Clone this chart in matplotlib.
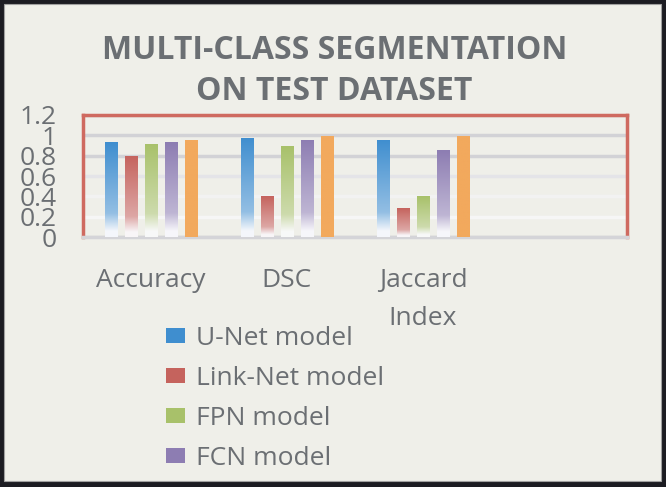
import numpy as np
import matplotlib.pyplot as plt
from matplotlib.patches import Rectangle, Patch
from matplotlib.colors import to_rgb

# data
categories = ["Accuracy", "DSC", "Jaccard\nIndex", ""]
models = ["U-Net model", "Link-Net model", "FPN model", "FCN model", "Proposed model"]
unet = [0.93, 0.975, 0.955, np.nan]
linknet = [0.80, 0.40, 0.285, np.nan]
fpn = [0.915, 0.895, 0.40, np.nan]
fcn = [0.93, 0.955, 0.855, np.nan]
proposed = [0.955, 0.998, 0.998, np.nan]
series = [unet, linknet, fpn, fcn, proposed]
colors = ["#3f8ecf", "#c5635d", "#a8c16a", "#8d7db2", "#f2a95d"]

plt.rcParams['font.family'] = ['Open Sans', 'DejaVu Sans']
text_color = "#6b6f73"
bg = "#efefe9"

fig = plt.figure(figsize=(6.66, 4.87), dpi=100)
fig.patch.set_facecolor("#1c1c22")
fig.patches.append(Rectangle((4 / 666, 6 / 487), 657 / 666, 477 / 487,
                             transform=fig.transFigure, facecolor=bg,
                             edgecolor="#a0a0a0", lw=0.8, zorder=-5))

ax = fig.add_axes([83 / 666, 1 - 237 / 487, 544 / 666, 122 / 487])
ax.set_facecolor("none")

x = np.arange(len(categories))
step = 0.147
width = 0.093


def fade(base, n=200, solid=False):
    # Excel-like gradient: base colour at top, lighter lower down, white at foot
    c = np.array(to_rgb(base))
    t = np.linspace(0, 1, n)[:, None]
    if solid:
        w = np.zeros_like(t)
    else:
        w = np.where(t >= 0.25, 0.45 * (1 - t) / 0.75,
                     np.clip(0.45 + 0.55 * (0.25 - t) / 0.2, 0, 0.97))
    rgb = c * (1 - w) + np.array([0.98, 0.98, 0.99]) * w
    return rgb[::-1, None, :]


for i, (vals, col) in enumerate(zip(series, colors)):
    bars = ax.bar(x + (i - 2) * step, vals, width, color="none", zorder=3)
    for b in bars:
        h = b.get_height()
        if not np.isfinite(h):
            continue
        img = ax.imshow(fade(col, solid=(i == 4)), aspect="auto", zorder=3,
                        extent=[b.get_x(), b.get_x() + b.get_width(), 0, h])
        img.set_clip_path(b)

ax.set_xlim(-0.5, len(categories) - 0.5)
ax.set_ylim(0, 1.2)
ax.set_yticks([0, 0.2, 0.4, 0.6, 0.8, 1.0, 1.2])
ax.set_yticklabels(["0", "0.2", "0.4", "0.6", "0.8", "1", "1.2"])
ax.set_xticks(x)
ax.set_xticklabels(categories)
ax.tick_params(axis="y", length=0, pad=19, labelsize=19, labelcolor=text_color)
ax.tick_params(axis="x", length=0, pad=22, labelsize=19, labelcolor=text_color)
for t in ax.get_xticklabels():
    t.set_linespacing(1.72)

ax.yaxis.grid(True, lw=2.5)
grid_cols = ["#d6d6da", "#f6f6f6", "#f2f2f2", "#e4e4e8", "#d2d2d6", "#d2d2d6", "#d2d2d6"]
for gl, gc in zip(ax.get_ygridlines(), grid_cols):
    gl.set_color(gc)
ax.set_axisbelow(True)

for side in ["left", "top", "right"]:
    ax.spines[side].set_color("#cf6a60")
    ax.spines[side].set_linewidth(2.5)
ax.spines["bottom"].set_color("#d4d4d8")
ax.spines["bottom"].set_linewidth(2.5)

fig.text(0.502, 1 - 71 / 487, "MULTI-CLASS SEGMENTATION\nON TEST DATASET",
         ha="center", va="center", fontsize=23, fontweight="bold",
         color=text_color, linespacing=1.35)

handles = [Patch(facecolor=c, edgecolor="none") for c in colors[:4]]
fig.legend(handles, models[:4], loc="upper left",
           bbox_to_anchor=(166 / 666, 1 - 326 / 487), frameon=False,
           fontsize=19, labelcolor=text_color, handlelength=0.72,
           handleheight=0.52, handletextpad=0.42, labelspacing=0.57,
           borderpad=0, borderaxespad=0)

fig.savefig("out.png", dpi=100, facecolor=fig.get_facecolor())
